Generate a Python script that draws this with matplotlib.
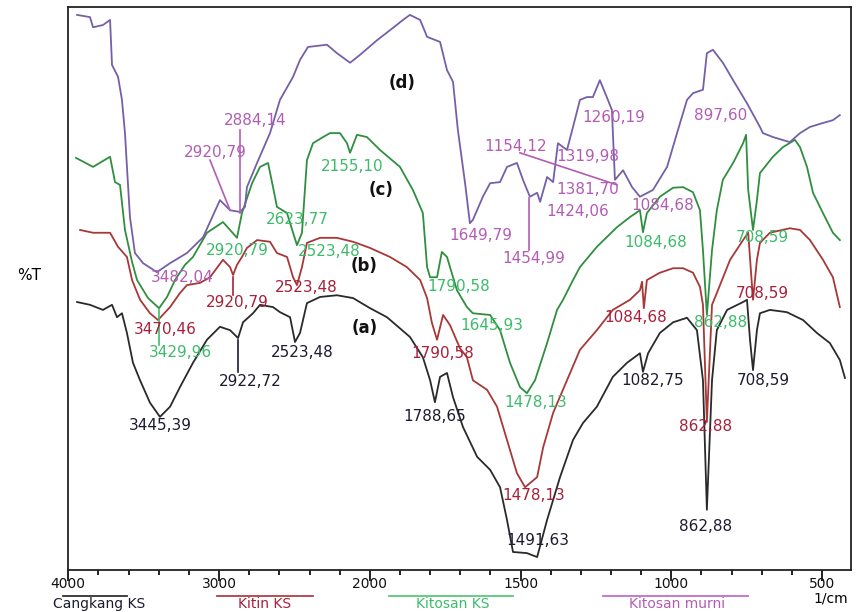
import numpy as np
import matplotlib
matplotlib.use("Agg")
import matplotlib.pyplot as plt
from matplotlib.lines import Line2D

# ---- spectra: wavenumber (1/cm) and %T (arbitrary 0-100) ----
# (a) Cangkang KS
wn_a = [3942, 3856, 3770, 3710, 3677, 3644, 3611, 3571, 3524, 3458,
        3392, 3325, 3259, 3173, 3080, 2994, 2927, 2874, 2841, 2775,
        2728, 2642, 2596, 2529, 2496, 2463, 2417, 2330, 2218, 2111,
        1999, 1943, 1867, 1824, 1800, 1784, 1767, 1744, 1724, 1691,
        1644, 1601, 1568, 1545, 1525, 1479, 1445, 1412, 1369, 1326,
        1293, 1247, 1194, 1147, 1104, 1094, 1077, 1038, 994, 948,
        915, 895, 882, 865, 849, 815, 762, 749, 739, 729,
        716, 706, 673, 617, 563, 517, 474, 441, 424]
t_a = [47.6, 47.1, 46.2, 47.1, 44.9, 45.6, 42.1, 36.8, 33.7, 29.7,
       27.2, 29.0, 32.5, 36.8, 40.9, 43.2, 42.6, 41.2, 44.0, 45.6,
       47.1, 46.7, 45.8, 44.9, 40.5, 42.1, 47.4, 48.5, 48.8, 48.3,
       46.5, 44.9, 41.4, 37.8, 33.7, 29.8, 34.3, 35.0, 30.7, 25.4,
       20.1, 17.8, 14.7, 8.9, 3.2, 3.0, 2.3, 8.9, 16.5, 23.1,
       26.1, 29.0, 34.3, 36.8, 38.5, 35.2, 38.5, 42.1, 44.0, 44.8,
       42.6, 33.7, 10.7, 33.7, 42.6, 46.2, 47.6, 48.0, 40.9, 35.5,
       42.6, 45.6, 46.2, 45.8, 44.4, 42.1, 40.3, 37.3, 34.1]

# (b) Kitin KS
wn_b = [3922, 3836, 3723, 3670, 3611, 3577, 3524, 3458, 3405, 3325,
        3259, 3213, 3126, 3060, 2974, 2927, 2907, 2881, 2848, 2815,
        2748, 2662, 2616, 2549, 2509, 2483, 2450, 2417, 2330, 2218,
        2111, 1999, 1933, 1877, 1833, 1810, 1794, 1777, 1757, 1734,
        1701, 1678, 1658, 1611, 1578, 1545, 1512, 1485, 1445, 1425,
        1392, 1346, 1303, 1247, 1194, 1137, 1104, 1097, 1091, 1081,
        1038, 994, 961, 928, 905, 895, 882, 865, 849, 805,
        762, 745, 729, 716, 706, 673, 607, 573, 540, 497,
        464, 441]
t_b = [60.4, 59.9, 59.9, 57.4, 55.6, 51.5, 48.0, 45.6, 44.4, 46.7,
       49.2, 50.6, 51.0, 52.0, 55.1, 53.8, 52.4, 54.2, 55.6, 57.2,
       58.6, 58.3, 56.3, 55.6, 52.0, 50.6, 53.8, 58.1, 59.0, 59.0,
       58.3, 57.2, 55.6, 53.8, 51.5, 48.3, 43.9, 40.9, 45.3, 43.5,
       39.4, 37.8, 33.7, 32.0, 29.0, 23.1, 17.2, 14.7, 16.5, 21.8,
       27.9, 33.7, 39.1, 42.6, 46.2, 48.0, 49.7, 51.2, 46.5, 51.5,
       52.8, 53.6, 53.6, 52.8, 50.3, 47.1, 26.3, 47.1, 49.2, 55.1,
       58.6, 59.9, 48.0, 55.1, 58.1, 59.9, 60.7, 60.4, 58.6, 55.1,
       52.0, 46.7]

# (c) Kitosan KS
wn_c = [3949, 3836, 3723, 3690, 3657, 3624, 3577, 3544, 3471, 3398,
        3345, 3292, 3226, 3173, 3080, 2974, 2927, 2881, 2848, 2781,
        2728, 2675, 2642, 2616, 2549, 2509, 2483, 2450, 2417, 2377,
        2310, 2264, 2198, 2151, 2131, 2085, 2019, 1966, 1900, 1857,
        1824, 1810, 1800, 1777, 1761, 1744, 1711, 1678, 1658, 1601,
        1568, 1535, 1502, 1479, 1452, 1412, 1379, 1359, 1326, 1303,
        1247, 1180, 1137, 1104, 1094, 1081, 1038, 994, 961, 928,
        905, 895, 882, 865, 849, 829, 795, 762, 752, 745,
        729, 716, 706, 663, 630, 590, 573, 550, 530, 497,
        464, 441]
t_c = [73.2, 71.6, 73.4, 68.9, 68.4, 60.4, 54.7, 51.5, 48.3, 46.5,
       48.5, 51.5, 54.2, 55.6, 59.9, 61.8, 60.4, 59.0, 63.4, 68.7,
       71.6, 72.3, 68.0, 64.5, 63.4, 59.9, 57.7, 59.9, 72.8, 75.8,
       76.9, 77.6, 77.6, 75.8, 74.1, 77.3, 76.9, 74.6, 71.6, 67.5,
       63.4, 53.8, 52.0, 52.0, 56.5, 55.6, 49.7, 46.7, 45.6, 45.3,
       42.6, 36.8, 32.5, 31.4, 33.7, 40.3, 46.2, 48.0, 51.5, 53.8,
       57.4, 60.9, 62.7, 63.9, 60.0, 63.4, 66.3, 67.9, 68.0, 67.1,
       63.9, 56.8, 45.3, 56.8, 63.9, 69.3, 72.3, 75.8, 77.3, 67.5,
       60.4, 65.7, 70.5, 73.4, 75.1, 76.4, 75.1, 71.6, 67.0, 63.4,
       59.9, 58.6]

# (d) Kitosan murni
wn_d = [3942, 3856, 3836, 3770, 3723, 3710, 3670, 3644, 3624, 3611,
        3591, 3558, 3504, 3412, 3325, 3213, 3106, 2994, 2927, 2861,
        2828, 2815, 2748, 2662, 2596, 2509, 2463, 2410, 2284, 2218,
        2131, 2065, 1976, 1923, 1890, 1867, 1833, 1810, 1767, 1744,
        1724, 1708, 1684, 1668, 1658, 1625, 1601, 1568, 1545, 1512,
        1492, 1469, 1445, 1435, 1412, 1392, 1376, 1346, 1326, 1303,
        1280, 1260, 1237, 1214, 1197, 1187, 1160, 1130, 1104, 1061,
        1014, 981, 948, 928, 895, 882, 862, 829, 795, 749,
        706, 696, 663, 607, 573, 540, 497, 464, 441]
t_d = [98.6, 98.2, 96.4, 96.8, 97.7, 89.7, 87.6, 83.5, 77.6, 71.6,
       62.7, 56.3, 54.5, 52.9, 54.5, 56.3, 59.1, 65.7, 63.9, 63.6,
       64.5, 68.0, 72.3, 77.6, 83.5, 87.6, 90.6, 92.9, 93.3, 91.8,
       90.1, 91.5, 94.1, 96.3, 97.7, 98.6, 97.7, 94.7, 93.8, 88.8,
       86.7, 78.2, 68.7, 61.6, 62.2, 66.3, 68.7, 68.9, 71.6, 72.3,
       69.3, 66.3, 67.0, 65.4, 69.8, 68.9, 75.8, 74.6, 78.7, 83.5,
       84.0, 84.0, 87.0, 84.0, 81.7, 69.3, 71.0, 68.0, 66.3, 67.5,
       71.6, 77.6, 83.5, 84.7, 85.3, 91.8, 92.4, 90.1, 87.0, 82.9,
       78.7, 77.6, 76.9, 76.0, 77.6, 78.7, 79.4, 79.9, 80.8]

series_names = ["Cangkang KS", "Kitin KS", "Kitosan KS", "Kitosan murni"]
series_tags = ["(a)", "(b)", "(c)", "(d)"]

# peak labels: text, wavenumber, %T position
peaks_a = [("3445,39", 3392, 25.6), ("2922,72", 2795, 33.4), ("2523,48", 2450, 38.7),
           ("1788,65", 1784, 27.2), ("1491,63", 1442, 5.3), ("1082,75", 1061, 33.7),
           ("862,88", 885, 7.8), ("708,59", 696, 33.7)]
peaks_b = [("3470,46", 3359, 42.8), ("2920,79", 2881, 47.6), ("2523,48", 2423, 50.1),
           ("1790,58", 1757, 38.5), ("1478,13", 1455, 13.3), ("1084,68", 1117, 44.9),
           ("862,88", 885, 25.4), ("708,59", 699, 49.2)]
peaks_c = [("3429,96", 3259, 38.7), ("2920,79", 2881, 56.8), ("2523,48", 2271, 56.5),
           ("2623,77", 2483, 62.2), ("2155,10", 2118, 71.6), ("1790,58", 1704, 50.3),
           ("1645,93", 1595, 43.5), ("1478,13", 1449, 29.8), ("1084,68", 1051, 58.1),
           ("862,88", 838, 44.0), ("708,59", 699, 59.0)]
peaks_d = [("3482,04", 3246, 51.9), ("2920,79", 3027, 74.2), ("2884,14", 2762, 79.9),
           ("1649,79", 1631, 59.5), ("1454,99", 1455, 55.4), ("1424,06", 1310, 63.6),
           ("1381,70", 1276, 67.5), ("1319,98", 1276, 73.4), ("1154,12", 1518, 75.3),
           ("1260,19", 1190, 80.3), ("1084,68", 1027, 64.8), ("897,60", 838, 80.8)]

# leader lines: (wn0, T0, wn1, T1)
leaders_a = [(2874, 40.9, 2874, 35.2)]
leaders_b = [(2907, 52.0, 2907, 48.8)]
leaders_c = [(3398, 46.2, 3398, 40.0)]
leaders_d = [(2861, 78.2, 2861, 63.4), (3060, 72.8, 2927, 63.9),
             (1472, 66.1, 1472, 56.8), (1502, 74.1, 1180, 68.4)]

tag_pos = [(2032, 43.0), (2040, 54.0), (1963, 67.5), (1893, 86.5)]

line_colors = ["#2a2a2a", "#a83838", "#2f8f3f", "#7560a8"]
text_colors = ["#1c1c30", "#a8203a", "#3dbb6a", "#b25cb5"]
legend_colors = ["#333333", "#b0404a", "#5cc878", "#c070c8"]


def fwd(x):
    x = np.asarray(x, dtype=float)
    return np.where(x > 2000, 2000 + (x - 2000) / 2.0, x)


def inv(u):
    u = np.asarray(u, dtype=float)
    return np.where(u > 2000, 2000 + 2.0 * (u - 2000), u)


plt.rcParams['font.family'] = 'DejaVu Sans'

fig = plt.figure(figsize=(8.56, 6.12), dpi=100)
ax = fig.add_axes([68.3 / 856, 42 / 612, (851 - 68.3) / 856, 563 / 612])
ax.set_xscale('function', functions=(fwd, inv))

spectra = [(wn_a, t_a), (wn_b, t_b), (wn_c, t_c), (wn_d, t_d)]
for (wn, t), col in zip(spectra, line_colors):
    ax.plot(wn, t, color=col, lw=1.3)

all_peaks = [peaks_a, peaks_b, peaks_c, peaks_d]
all_leaders = [leaders_a, leaders_b, leaders_c, leaders_d]
for peaks, leaders, col in zip(all_peaks, all_leaders, text_colors):
    for txt, x, y in peaks:
        ax.text(x, y, txt, color=col, fontsize=11, ha='center', va='center')
    for x0, y0, x1, y1 in leaders:
        ax.plot([x0, x1], [y0, y1], color=col, lw=1.2)

for tag, (x, y) in zip(series_tags, tag_pos):
    ax.text(x, y, tag, color='#111111', fontsize=12, fontweight='bold',
            ha='center', va='center')

ax.set_xlim(4000, 404)
ax.set_ylim(0, 100)
ax.set_yticks([])
ax.set_xticks([4000, 3000, 2000, 1500, 1000, 500])
ax.set_xticklabels(["4000", "3000", "2000", "1500", "1000", "500"])
minor = [m for m in range(3800, 2000, -200) if m != 3000] + \
        [m for m in range(1900, 400, -100) if m not in (1500, 1000, 500)]
ax.set_xticks(minor, minor=True)
ax.tick_params(axis='x', which='major', direction='out', length=8, width=1.3,
               pad=-3, labelsize=10, colors='#111111')
ax.tick_params(axis='x', which='minor', direction='out', length=3.5, width=1.3,
               colors='#111111')
for s in ax.spines.values():
    s.set_linewidth(1.3)
    s.set_color('#222222')

fig.text(29 / 856, 1 - 275 / 612, "%T", fontsize=11, ha='center', va='center')
fig.text(831 / 856, 1 - 599 / 612, "1/cm", fontsize=10, ha='center', va='center')

# legend under the axis
leg_lines = [(63, 127), (217, 313), (389, 513), (603, 748)]
leg_text_x = [99, 265, 453, 677]
for name, (x0, x1), tx, lc, tc in zip(series_names, leg_lines, leg_text_x,
                                      legend_colors, text_colors):
    fig.add_artist(Line2D([x0 / 856, x1 / 856], [1 - 596 / 612] * 2,
                          color=lc, lw=1.3, transform=fig.transFigure))
    fig.text(tx / 856, 1 - 604 / 612, name, fontsize=10, color=tc,
             ha='center', va='center')

fig.savefig("out.png", dpi=100)
